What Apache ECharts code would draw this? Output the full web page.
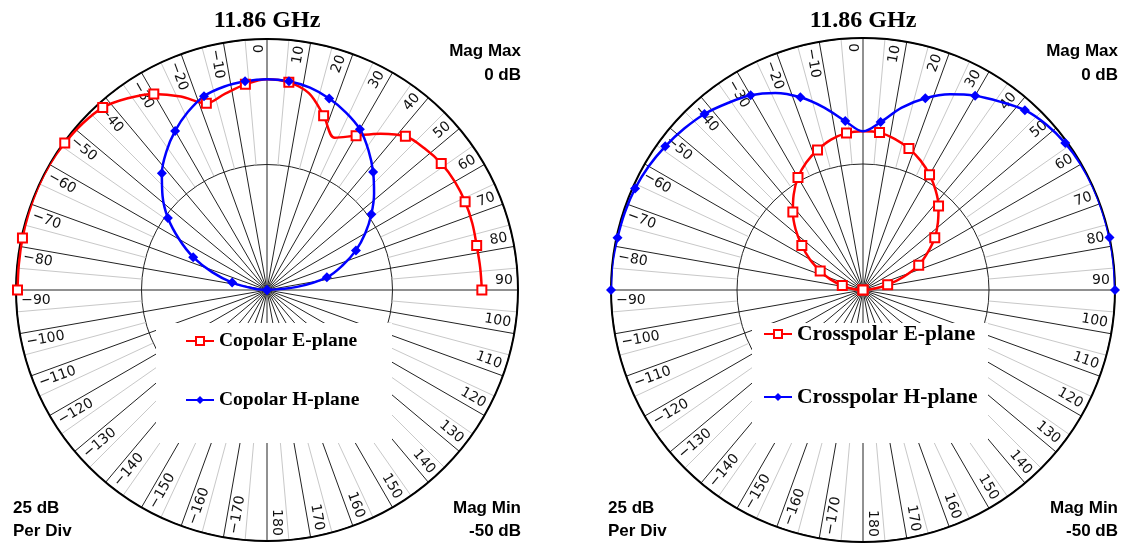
<!DOCTYPE html>
<html>
<head>
<meta charset="utf-8">
<script src="https://cdn.jsdelivr.net/npm/echarts@6/dist/echarts.min.js"></script>
<style>
html,body{margin:0;padding:0;background:#fff;}
#chart{width:1126px;height:543px;}
</style>
</head>
<body>
<div id="chart"></div>
<script>
// ---- data ----
const titleText = '11.86 GHz';
const angles = [-90,-84,-78,-72,-66,-60,-54,-48,-42,-36,-30,-24,-18,-12,-6,0,6,12,18,24,30,36,42,48,54,60,66,72,78,84,90];
const markerAngles = [-90,-78,-66,-54,-42,-30,-18,-6,6,18,30,42,54,66,78,90];
const tickLabels = [-170,-160,-150,-140,-130,-120,-110,-100,-90,-80,-70,-60,-50,-40,-30,-20,-10,0,10,20,30,40,50,60,70,80,90,100,110,120,130,140,150,160,170,180];
const copolE = [-0.3,-0.3,-0.2,-0.1,0,0,-0.2,-0.5,-1.1,-2.8,-4.9,-7.8,-10.9,-10.0,-8.8,-8.0,-8.4,-9.9,-13.5,-16.8,-14.5,-11.5,-8.8,-7.8,-7.1,-6.8,-6.8,-7.0,-7.3,-7.3,-7.2];
const copolH = [-50,-47.5,-42.9,-38.5,-33.9,-29.8,-25.6,-22.0,-18.7,-15.9,-13.4,-11.2,-9.4,-8.6,-8.2,-8.0,-8.2,-8.8,-9.9,-11.3,-13.0,-15.6,-18.4,-21.3,-24.3,-27.4,-30.6,-34.2,-37.8,-44.0,-50];
const xpolE = [-50,-48.0,-45.8,-43.2,-40.7,-37.8,-35.0,-32.0,-29.2,-26.6,-24.2,-22.3,-20.8,-19.5,-18.7,-18.5,-18.6,-19.4,-20.5,-21.9,-23.6,-25.5,-27.6,-30.0,-32.4,-35.2,-37.9,-41.5,-45.0,-47.8,-50];
const xpolH = [0,0,-0.2,-0.3,-0.5,-0.9,-1.5,-2.2,-3.0,-4.2,-5.4,-7.2,-9.8,-13.0,-16.3,-18.5,-16.5,-13.0,-10.0,-7.5,-5.5,-3.8,-2.0,-1.0,-0.4,-0.1,0,0,0,0,0];
const magMin = -50, magMax = 0, perDiv = 25;

// ---- layout ----
const CY = 290, LX = 267, RX = 863, RL = 251, RR = 252;

function build(vals){
  return vals.map((v,i)=> markerAngles.includes(angles[i]) ? [v, angles[i]] : {value:[v, angles[i]], symbol:'none'});
}
function fmt(t){ return t < 0 ? '\u2212' + Math.abs(t) : String(t); }

function labelRender(params, api){
  const theta = api.value(1);
  const c = api.coord([magMin, theta]);
  const o = api.coord([magMax, theta]);
  const R = Math.hypot(o[0]-c[0], o[1]-c[1]);
  const rVal = magMin + (magMax-magMin)*(R-5)/R;
  const p = api.coord([rVal, theta - 2.3]);
  const pos = theta > 0;
  const rot = pos ? (90 - theta) : -(theta + 90);
  return {
    type:'text', x:p[0], y:p[1], rotation: rot*Math.PI/180,
    style:{text: fmt(theta), align: pos?'right':'left', textAlign: pos?'right':'left',
      verticalAlign:'middle', textVerticalAlign:'middle',
      font:'14px "DejaVu Sans"', fill:'#111'}
  };
}

function mainAngle(i){
  return {polarIndex:i, type:'value', min:-180, max:180, interval:10, startAngle:270, clockwise:true,
    axisLine:{show:true, lineStyle:{color:'#000', width:2}}, axisTick:{show:false}, axisLabel:{show:false},
    splitLine:{show:true, lineStyle:{color:'#222', width:1}}};
}
function minorAngle(i){
  return {polarIndex:i, type:'value', min:-180, max:180, interval:5, startAngle:270, clockwise:true,
    axisLine:{show:false}, axisTick:{show:false}, axisLabel:{show:false},
    splitLine:{show:true, lineStyle:{color:['rgba(0,0,0,0)','#c8c8c8'], width:1}}};
}
function mainRadius(i){
  return {polarIndex:i, type:'value', min:magMin, max:magMax, interval:perDiv,
    axisLine:{show:false}, axisTick:{show:false}, axisLabel:{show:false},
    splitLine:{show:true, lineStyle:{color:'#222', width:1}}};
}
function minorRadius(i){
  return {polarIndex:i, type:'value', min:magMin, max:magMax, interval:perDiv,
    axisLine:{show:false}, axisTick:{show:false}, axisLabel:{show:false}, splitLine:{show:false}};
}
function redSeries(name, vals, pi){
  return {name, type:'line', coordinateSystem:'polar', polarIndex:pi, smooth:0.35, z:3,
    symbol:'rect', symbolSize:9, lineStyle:{color:'#ff0000', width:2.5},
    itemStyle:{color:'#ffffff', borderColor:'#ff0000', borderWidth:2}, data: build(vals)};
}
function blueSeries(name, vals, pi){
  return {name, type:'line', coordinateSystem:'polar', polarIndex:pi, smooth:0.35, z:3,
    symbol:'diamond', symbolSize:10, lineStyle:{color:'#0000ff', width:2.5},
    itemStyle:{color:'#0000ff'}, data: build(vals)};
}
function labelSeries(pi){
  return {type:'custom', coordinateSystem:'polar', polarIndex:pi, z:2, silent:true,
    renderItem: labelRender, data: tickLabels.map(t=>[magMin, t])};
}
function txt(x, y, text, font, align){
  return {type:'text', x, y, z:5, style:{text, font, fill:'#000', align, textAlign:align, verticalAlign:'middle', textVerticalAlign:'middle'}};
}
function corner(cx, R){
  const f = 'bold 17px "Liberation Sans"';
  return [
    txt(cx+R+3, 51, 'Mag Max', f, 'right'),
    txt(cx+R+3, 75, magMax + ' dB', f, 'right'),
    txt(cx-R-3, 508, perDiv + ' dB', f, 'left'),
    txt(cx-R-3, 531, 'Per Div', f, 'left'),
    txt(cx+R+3, 508, 'Mag Min', f, 'right'),
    txt(cx+R+3, 531, magMin + ' dB', f, 'right'),
    txt(cx, 21, titleText, 'bold 24px "Liberation Serif"', 'center')
  ];
}
function box(cx){
  return {type:'rect', z:1, shape:{x:cx-111, y:CY+33, width:236, height:120}, style:{fill:'#fff'}};
}

const legendText = (size)=>({fontFamily:'Liberation Serif', fontWeight:'bold', fontSize:size, color:'#000'});

const option = {
  animation:false,
  backgroundColor:'#ffffff',
  polar:[
    {center:[LX,CY], radius:RL},
    {center:[LX,CY], radius:[RL/2, RL]},
    {center:[RX,CY], radius:RR},
    {center:[RX,CY], radius:[RR/2, RR]}
  ],
  angleAxis:[mainAngle(0), minorAngle(1), mainAngle(2), minorAngle(3)],
  radiusAxis:[mainRadius(0), minorRadius(1), mainRadius(2), minorRadius(3)],
  legend:[
    {data:['Copolar E-plane','Copolar H-plane'], orient:'vertical', left:185, top:331, itemGap:39, padding:0,
      itemWidth:28, itemHeight:10, selectedMode:false, textStyle:legendText(19.5)},
    {data:['Crosspolar E-plane','Crosspolar H-plane'], orient:'vertical', left:763, top:323, itemGap:41, padding:0,
      itemWidth:28, itemHeight:10, selectedMode:false, textStyle:legendText(21.5)}
  ],
  graphic:{elements:[box(LX), box(RX)].concat(corner(LX, RL), corner(RX, RR))},
  series:[
    labelSeries(0), labelSeries(2),
    redSeries('Copolar E-plane', copolE, 0),
    blueSeries('Copolar H-plane', copolH, 0),
    redSeries('Crosspolar E-plane', xpolE, 2),
    blueSeries('Crosspolar H-plane', xpolH, 2)
  ]
};
const chart = echarts.init(document.getElementById('chart'), null, {renderer:'canvas'});
chart.setOption(option);
</script>
</body>
</html>
